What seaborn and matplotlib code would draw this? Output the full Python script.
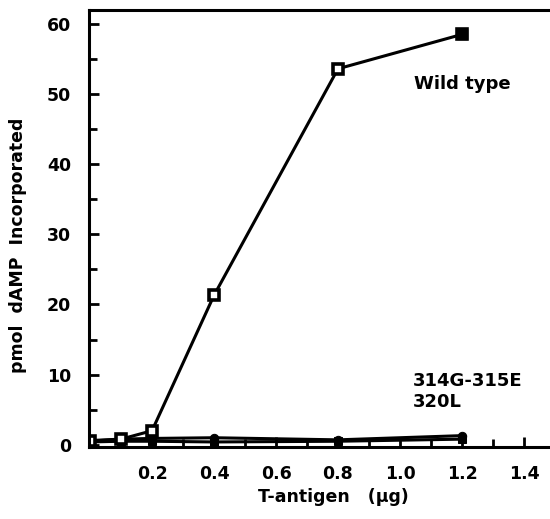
import matplotlib
matplotlib.use('Agg')
import matplotlib.pyplot as plt
import seaborn as sns
import pandas as pd
from matplotlib.ticker import MultipleLocator

# data
dose = [0.0, 0.1, 0.2, 0.4, 0.8, 1.2]
wild_type = [0.5, 0.8, 2.0, 21.3, 53.6, 58.5]
mut_314g = [0.6, 0.8, 0.9, 1.0, 0.7, 1.3]
mut_320l = [0.4, 0.5, 0.5, 0.4, 0.5, 0.8]

x_ticks = [0.2, 0.4, 0.6, 0.8, 1.0, 1.2, 1.4]
y_ticks = [0, 10, 20, 30, 40, 50, 60]

sns.set_style('white')
plt.rcParams['font.family'] = ['DejaVu Sans']
plt.rcParams['font.weight'] = 'bold'
plt.rcParams['text.color'] = 'black'
plt.rcParams['axes.labelcolor'] = 'black'
plt.rcParams['xtick.color'] = 'black'
plt.rcParams['ytick.color'] = 'black'

fig = plt.figure(figsize=(5.5, 5.19), dpi=100)
ax = fig.add_axes([0.162, 0.139, 0.838, 0.842])

df = pd.DataFrame({'dose': dose, 'wt': wild_type, 'a': mut_314g, 'b': mut_320l})

lw = 2.2
sns.lineplot(data=df, x='dose', y='b', ax=ax, color='black', lw=lw,
             marker='s', markersize=6, markerfacecolor='black', markeredgecolor='black')
sns.lineplot(data=df, x='dose', y='a', ax=ax, color='black', lw=lw,
             marker='o', markersize=6, markerfacecolor='black', markeredgecolor='black')
sns.lineplot(data=df, x='dose', y='wt', ax=ax, color='black', lw=lw,
             marker='s', markersize=6.5, markerfacecolor='white', markeredgecolor='black',
             markeredgewidth=2.6)
# last wild type point is drawn filled
last = df.iloc[[-1]]
ax.plot(last['dose'], last['wt'], 's', color='black', markersize=7.5, zorder=5)

ax.set_xlim(-0.003, 1.484)
ax.set_ylim(-0.3, 62)
ax.set_xticks(x_ticks)
ax.set_xticklabels(['%.1f' % v for v in x_ticks])
ax.xaxis.set_minor_locator(MultipleLocator(0.1))
ax.set_yticks(y_ticks)
ax.yaxis.set_minor_locator(MultipleLocator(5))

ax.tick_params(axis='both', which='both', direction='in', width=2, color='black',
               left=True, bottom=True, labelcolor='black')
ax.tick_params(axis='both', which='major', length=7, labelsize=12.5)
ax.tick_params(axis='both', which='minor', length=6)
ax.tick_params(axis='x', which='major', pad=13)
ax.tick_params(axis='y', which='major', pad=13)
for lab in ax.get_xticklabels() + ax.get_yticklabels():
    lab.set_fontweight('bold')

for side in ['left', 'bottom', 'top']:
    ax.spines[side].set_linewidth(2.2)
    ax.spines[side].set_color('black')
ax.spines['right'].set_visible(False)

ax.set_xlabel('T-antigen   (\u03bcg)', fontsize=12.5, fontweight='bold', labelpad=3)
ax.set_ylabel('pmol  dAMP  Incorporated', fontsize=12.5, fontweight='bold', labelpad=12)
ax.xaxis.set_label_coords(0.529, -0.095)
ax.yaxis.set_label_coords(-0.134, 0.461)

ax.text(1.045, 51.5, 'Wild type', fontsize=13, fontweight='bold', va='center')
ax.text(1.040, 9.1, '314G-315E', fontsize=13, fontweight='bold', va='center')
ax.text(1.040, 6.1, '320L', fontsize=13, fontweight='bold', va='center')

fig.savefig('out.png', dpi=100)
